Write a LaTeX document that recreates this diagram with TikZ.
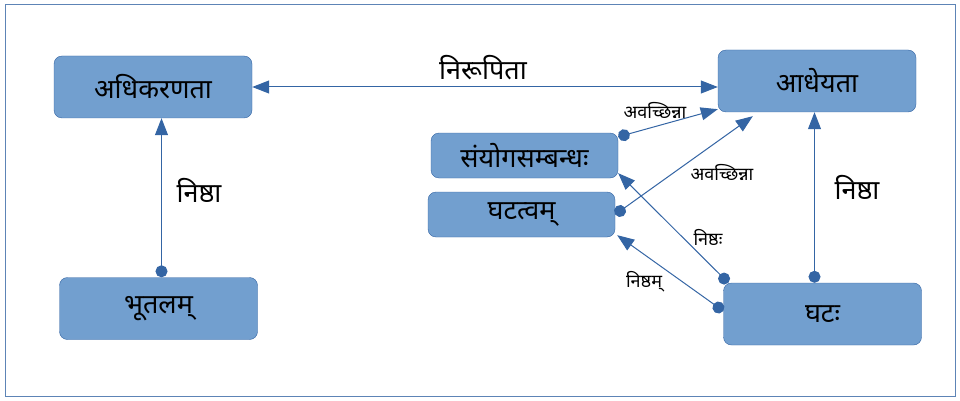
\documentclass[tikz,border=0pt]{standalone}
\usepackage{fontspec}
\setmainfont[Script=Devanagari]{Noto Sans}
\usetikzlibrary{arrows.meta}
\definecolor{boxfill}{HTML}{729FCF}
\definecolor{boxline}{HTML}{3465A4}

\begin{document}
\begin{tikzpicture}[
    x=1pt, y=-1pt,
    every node/.style={font=\fontsize{27}{30}\selectfont},
    concept/.style={rectangle, draw=boxline, fill=boxfill, minimum width=198pt, minimum height=62pt, rounded corners=8pt, align=center},
    attr/.style={rectangle, draw=boxline, fill=boxfill, minimum width=187pt, minimum height=45pt, rounded corners=8pt, align=center},
    small/.style={font=\fontsize{18}{20}\selectfont},
    rel/.style={draw=boxline, line width=1pt, {Circle[length=12pt]}-{Triangle[length=17pt,width=13pt]}},
    both/.style={draw=boxline, line width=1pt, {Triangle[length=17pt,width=13pt]}-{Triangle[length=17pt,width=13pt]}}
]
\useasboundingbox (0,0) rectangle (960,401);
\draw[boxline!80, line width=1pt] (5,5) rectangle (955,396);
\node[concept] (adhikarana) at (153,87) {अधिकरणता};
\node[concept] (bhutala) at (158.5,308.5) {भूतलम्};
\node[concept] (adheya) at (817,81) {आधेयता};
\node[attr] (samyoga) at (524.5,155.5) {संयोगसम्बन्धः};
\node[attr] (ghatatva) at (521.5,214.5) {घटत्वम्};
\node[concept] (ghata) at (822.5,314) {घटः};
\draw[both] (adhikarana.east) -- (adhikarana.east -| adheya.west);
\draw[rel] ([xshift=3pt]bhutala.north) -- ([xshift=3pt]bhutala.north |- adhikarana.south);
\draw[rel] ([xshift=-8pt]ghata.north) -- ([xshift=-8pt]ghata.north |- adheya.south);
\draw[rel] ([yshift=-4pt]samyoga.north east) -- ([yshift=3pt]adheya.south west);
\draw[rel] (ghatatva.east) -- ([xshift=35pt,yshift=-4pt]adheya.south west);
\draw[rel] ([xshift=5pt]ghata.north west) -- ([yshift=5pt]samyoga.south east);
\draw[rel] ([yshift=3pt]ghata.west) -- ([xshift=2pt,yshift=2pt]ghatatva.south east);
\node (nirupita) at (483,68) {निरूपिता};
\node (nishthaL) at (199,190) {निष्ठा};
\node (nishthaR) at (857,187) {निष्ठा};
\node[small] (avacA) at (655,110) {अवच्छिन्ना};
\node[small] (avacB) at (722,172) {अवच्छिन्ना};
\node[small] (nishthah) at (708,237) {निष्ठः};
\node[small] (nishtham) at (644,282) {निष्ठम्};
\end{tikzpicture}
\end{document}
